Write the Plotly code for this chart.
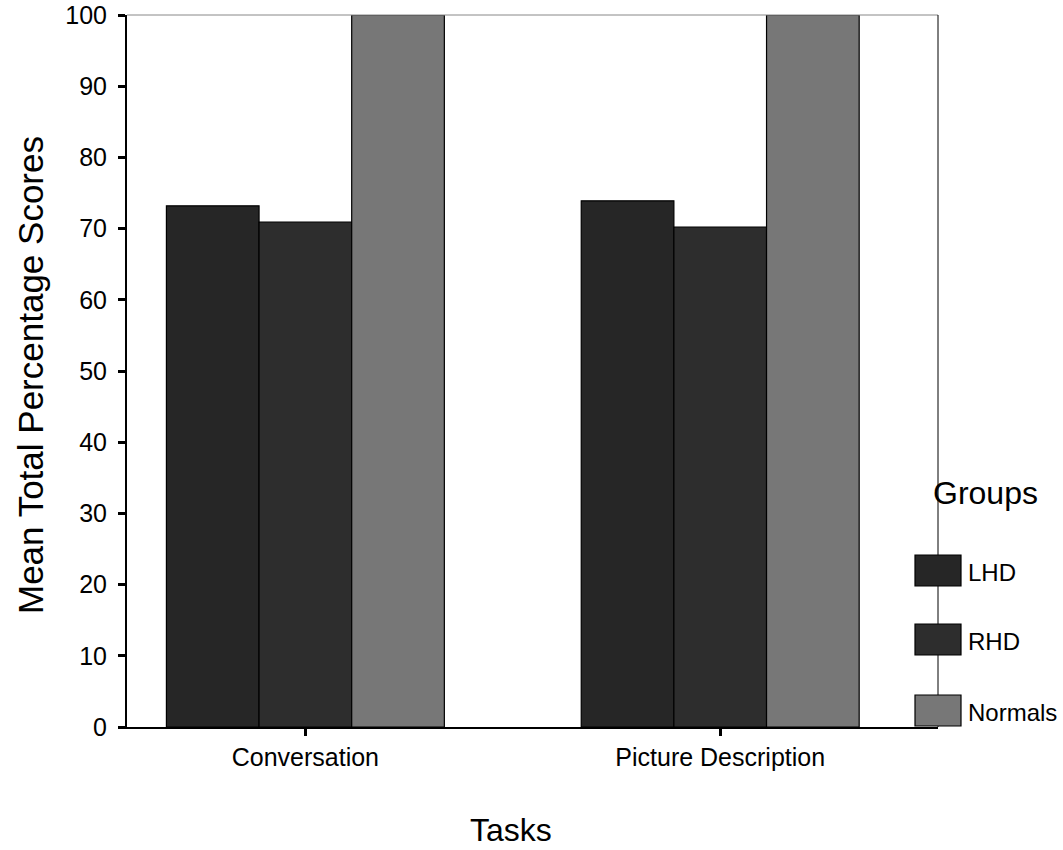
import plotly.graph_objects as go

tasks = ["Conversation", "Picture Description"]
groups = ["LHD", "RHD", "Normals"]
lhd = [73.2, 73.9]
rhd = [70.9, 70.2]
normals = [100, 100]
colors = ["#262626", "#2d2d2d", "#777777"]
y_ticks = [0, 10, 20, 30, 40, 50, 60, 70, 80, 90, 100]

FONT = "Liberation Sans, Arial, sans-serif"

fig = go.Figure()
for name, vals, col in zip(groups, [lhd, rhd, normals], colors):
    fig.add_trace(go.Bar(x=tasks, y=vals, name=name,
                         marker=dict(color=col, line=dict(color="black", width=1.2)),
                         showlegend=False))

W, H = 1063, 850
# plot area in screen pixels
L, R, T, B = 127, 938, 15, 727
fig.update_layout(
    width=W, height=H,
    margin=dict(l=L, r=W - R, t=T, b=H - B),
    plot_bgcolor="white", paper_bgcolor="white",
    barmode="group", bargap=0.33, bargroupgap=0,
    font=dict(family=FONT, color="black", size=25),
)
fig.update_xaxes(range=[-0.43, 1.525], showline=True, linecolor="black", linewidth=2,
                 ticks="outside", ticklen=7, tickwidth=3, tickcolor="black",
                 tickfont=dict(size=25), showgrid=False, zeroline=False, automargin=False)
fig.update_yaxes(range=[0, 100], tickvals=y_ticks, showline=True, linecolor="black", linewidth=2,
                 ticks="outside", ticklen=7, tickwidth=3, tickcolor="black",
                 tickfont=dict(size=25), showgrid=False, zeroline=False, ticklabelstandoff=6,
                 automargin=False)

def px(x):
    return (x - L) / (R - L)

def py(y):
    return (B - y) / (B - T)

# frame top/right
fig.add_shape(type="line", xref="paper", yref="paper", x0=0, x1=1, y0=1, y1=1, line=dict(color="#888888", width=1))
fig.add_shape(type="line", xref="paper", yref="paper", x0=1, x1=1, y0=0, y1=1, line=dict(color="black", width=1))

# axis titles
fig.add_annotation(text="Mean Total Percentage Scores", xref="paper", yref="paper", x=px(30), y=py(375),
                   textangle=-90, showarrow=False, font=dict(size=35), xanchor="center", yanchor="middle")
fig.add_annotation(text="Tasks", xref="paper", yref="paper", x=px(511), y=py(830),
                   showarrow=False, font=dict(size=32), xanchor="center", yanchor="middle")

# legend
fig.add_annotation(text="Groups", xref="paper", yref="paper", x=px(985), y=py(493),
                   showarrow=False, font=dict(size=32), xanchor="center", yanchor="middle")
legend_y = [570.5, 639.5, 710.5]
for name, col, yc in zip(groups, colors, legend_y):
    fig.add_shape(type="rect", xref="paper", yref="paper", x0=px(915), x1=px(961),
                  y0=py(yc - 15.5), y1=py(yc + 15.5),
                  fillcolor=col, line=dict(color="black", width=1.2))
    fig.add_annotation(text=name, xref="paper", yref="paper", x=px(966), y=py(yc + 2),
                       showarrow=False, font=dict(size=24), xanchor="left", yanchor="middle")

fig.write_html("out.html", config={"displayModeBar": False},
               post_script="document.body.style.margin='0';document.body.style.overflow='hidden';")
